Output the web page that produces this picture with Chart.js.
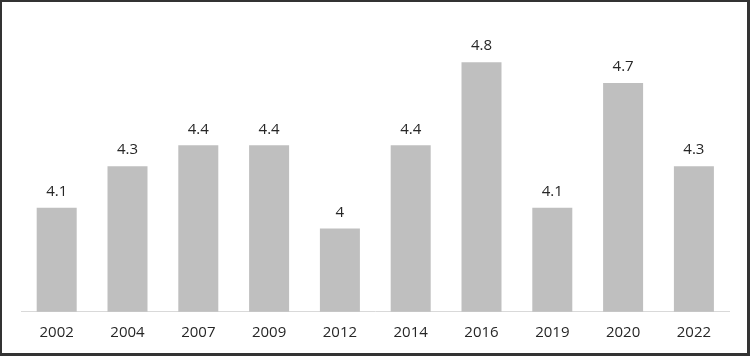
<!DOCTYPE html>
<html>
<head>
<meta charset="utf-8">
<script src="https://cdn.jsdelivr.net/npm/chart.js@4/dist/chart.umd.min.js"></script>
<style>
html,body{margin:0;padding:0;background:#fff;}
#wrap{width:750px;height:356px;position:relative;}
</style>
</head>
<body>
<div id="wrap"><canvas id="c" width="750" height="356"></canvas></div>
<script>
const categories = ["2002","2004","2007","2009","2012","2014","2016","2019","2020","2022"];
const values = [4.1, 4.3, 4.4, 4.4, 4.0, 4.4, 4.8, 4.1, 4.7, 4.3];
const valueLabels = ["4.1","4.3","4.4","4.4","4","4.4","4.8","4.1","4.7","4.3"];

const FONT = "'Open Sans', 'Liberation Sans', sans-serif";

const frame = {
  id: 'frame',
  beforeDraw(chart) {
    const ctx = chart.ctx;
    ctx.save();
    ctx.fillStyle = '#ffffff';
    ctx.fillRect(0, 0, chart.width, chart.height);
    ctx.restore();
  },
  afterDraw(chart) {
    const ctx = chart.ctx, w = chart.width, h = chart.height;
    ctx.save();
    ctx.fillStyle = '#333333';
    ctx.fillRect(0, 0, w, 2);
    ctx.fillRect(0, 0, 2, h);
    ctx.fillRect(w - 3, 0, 3, h);
    ctx.fillRect(0, h - 3, w, 3);
    ctx.restore();
  }
};

const barLabels = {
  id: 'barLabels',
  afterDatasetsDraw(chart) {
    const ctx = chart.ctx;
    const meta = chart.getDatasetMeta(0);
    ctx.save();
    ctx.font = "15px " + FONT;
    ctx.fillStyle = '#262626';
    ctx.textAlign = 'center';
    ctx.textBaseline = 'middle';
    meta.data.forEach((bar, i) => {
      ctx.fillText(valueLabels[i], bar.x, bar.y - 16);
    });
    ctx.restore();
  }
};

new Chart(document.getElementById('c'), {
  type: 'bar',
  data: {
    labels: categories,
    datasets: [{
      data: values,
      backgroundColor: '#bfbfbf',
      borderWidth: 0,
      barPercentage: 0.565,
      categoryPercentage: 1.0
    }]
  },
  options: {
    responsive: false,
    animation: false,
    devicePixelRatio: 1,
    layout: { padding: { left: 21.3, right: 20.7, top: 20.6, bottom: 0 } },
    plugins: { legend: { display: false }, tooltip: { enabled: false } },
    scales: {
      y: {
        display: false,
        min: 3.6,
        max: 5.0
      },
      x: {
        grid: { display: false, drawTicks: false },
        border: { display: true, color: '#d9d9d9', width: 1 },
        ticks: {
          color: '#262626',
          font: { family: FONT, size: 15 },
          padding: 12,
          maxRotation: 0,
          autoSkip: false
        },
        afterFit(scale) { scale.height = 44.3; }
      }
    }
  },
  plugins: [frame, barLabels]
});
</script>
</body>
</html>
